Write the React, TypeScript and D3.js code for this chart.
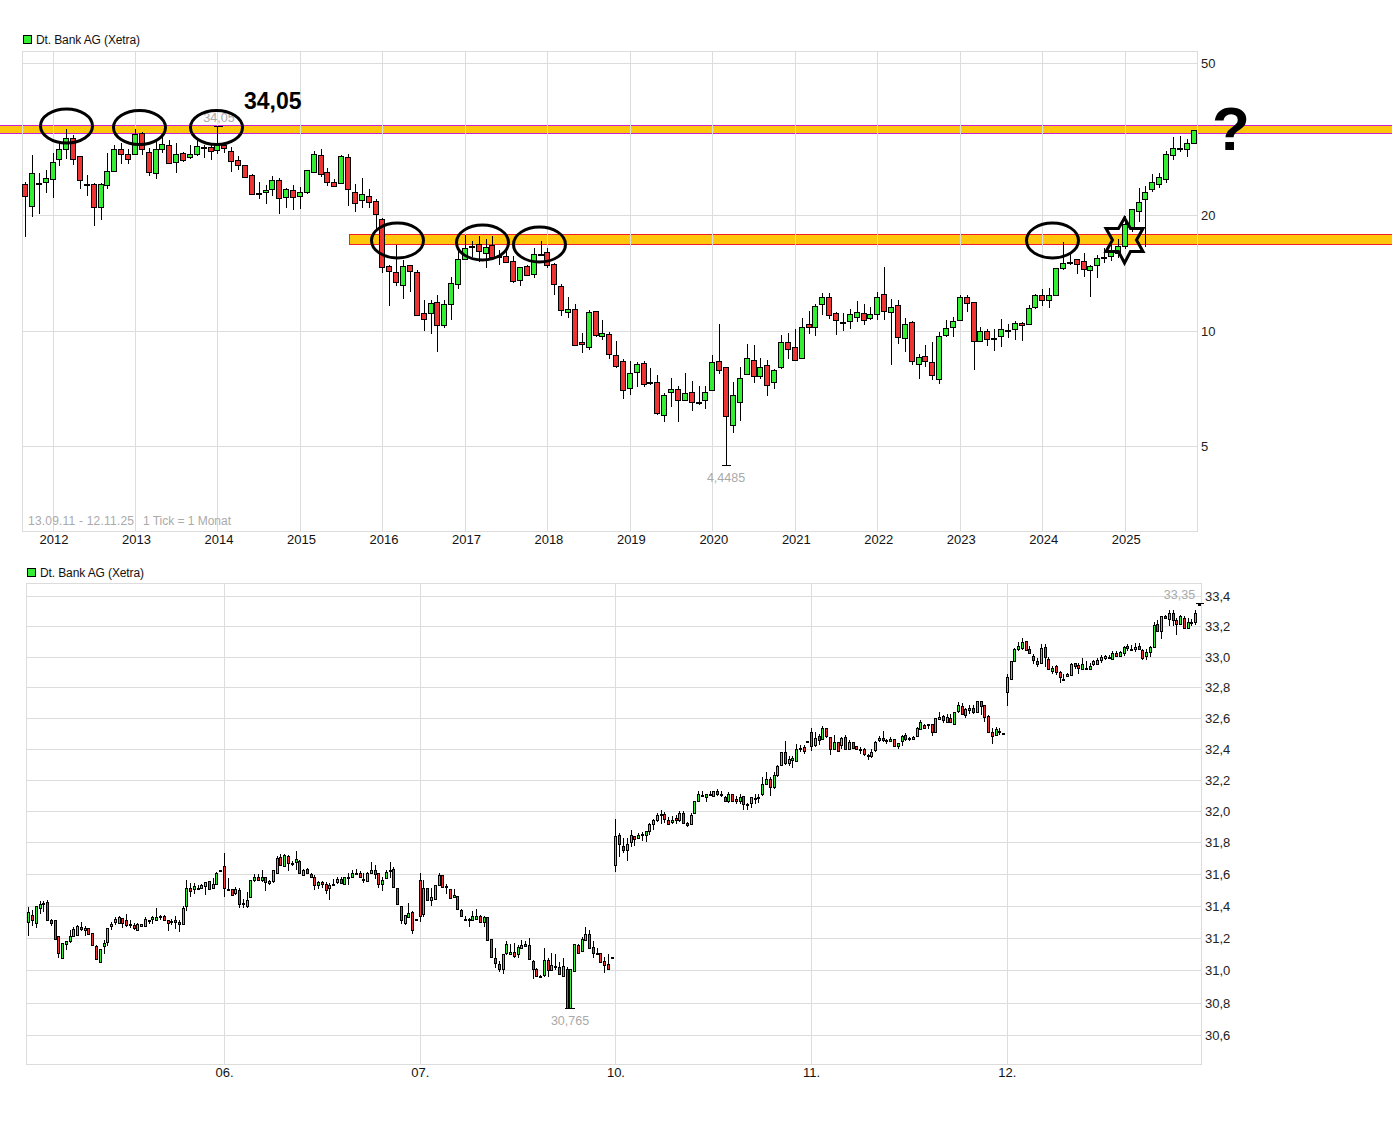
import React from 'react';
import * as d3 from 'd3';

type Candle = [number, number, number, number]; // open, high, low, close

const stockName = 'Dt. Bank AG (Xetra)';

// one candle per month, Sep 2011 - Nov 2025
const monthlyCandles: Candle[] = [
  [24.13,24.42,17.60,22.44],[21.21,28.78,19.86,25.78],[24.36,25.78,20.18,24.36],[24.42,26.28,22.93,25.01],[24.86,29.17,22.25,27.54],
  [28.03,30.87,26.93,29.77],[29.77,33.56,28.08,31.80],[31.80,32.45,27.10,28.03],[28.55,28.60,23.49,24.71],[24.17,25.52,22.48,24.17],
  [24.13,24.31,18.81,21.08],[21.00,24.31,19.46,24.13],[23.98,29.07,23.49,26.08],[26.08,30.50,26.08,29.77],[29.77,30.87,27.26,28.90],
  [28.90,29.77,27.26,28.03],[28.90,33.56,28.90,32.58],[32.78,32.97,28.78,29.77],[29.24,29.95,25.41,25.93],[25.78,31.47,24.95,29.77],
  [29.77,32.45,29.07,30.68],[30.50,31.47,27.21,27.37],[27.54,30.87,25.87,28.90],[29.07,29.35,27.54,27.86],[28.38,30.55,28.03,28.90],
  [28.90,31.47,28.60,30.32],[30.19,30.55,28.26,30.19],[30.13,30.55,27.96,29.42],[29.59,34.05,28.90,30.50],[30.50,30.87,29.07,29.95],
  [29.42,30.13,26.02,27.70],[27.86,28.60,26.28,27.05],[27.05,27.10,25.17,25.26],[25.47,25.62,22.62,22.80],[22.89,24.46,22.08,22.89],
  [22.99,24.03,21.43,23.26],[23.40,25.37,22.48,24.71],[24.71,25.01,20.18,22.17],[22.33,23.55,20.92,23.40],[23.26,24.03,20.66,22.33],
  [22.44,23.78,20.79,22.99],[22.99,26.28,22.76,26.23],[25.93,29.47,25.87,28.90],[28.72,29.77,25.17,25.62],[25.93,26.56,23.92,24.42],
  [24.42,24.90,23.78,23.92],[24.27,28.78,24.17,28.55],[28.38,28.90,21.21,23.40],[22.99,24.13,20.46,21.52],[21.90,25.01,20.88,22.72],
  [22.44,23.40,20.88,21.65],[21.77,22.03,18.32,20.14],[19.54,19.66,14.18,14.65],[14.74,14.86,11.63,14.30],[14.22,16.75,13.10,13.39],
  [13.15,15.30,12.13,14.74],[14.83,14.86,12.65,14.30],[14.22,14.38,10.91,10.98],[11.11,12.03,10.00,10.71],[11.11,12.03,9.82,11.80],
  [11.87,12.40,8.82,10.34],[10.34,12.03,10.18,11.73],[11.73,13.80,10.67,13.31],[13.23,16.15,12.88,15.37],[15.37,17.78,15.27,16.42],
  [16.65,17.15,15.61,16.65],[16.82,17.68,15.10,16.12],[15.93,17.32,14.60,16.52],[16.72,17.68,15.46,15.56],[15.65,16.25,14.83,15.65],
  [15.65,16.25,15.06,15.10],[15.18,15.68,13.31,13.47],[13.55,14.67,13.12,14.65],[14.74,14.86,13.93,13.97],[14.05,16.45,13.76,15.84],
  [15.84,17.12,15.65,15.84],[16.03,16.42,14.60,14.83],[14.92,15.01,12.36,13.23],[13.07,13.23,10.95,11.31],[11.18,12.23,10.82,11.38],
  [11.38,11.73,9.11,9.16],[9.33,9.86,8.74,9.22],[9.05,11.33,8.89,11.18],[11.24,11.26,9.61,9.73],[9.67,10.67,9.43,9.85],
  [9.79,9.94,8.43,8.69],[8.63,9.40,7.98,8.08],[8.33,8.43,6.64,6.99],[7.07,8.33,6.81,7.75],[7.79,8.28,7.12,8.18],
  [8.23,8.33,7.12,7.25],[7.35,7.98,7.23,7.35],[7.34,7.64,6.02,6.09],[6.02,6.86,5.79,6.78],[6.91,7.52,6.34,7.03],
  [7.03,7.16,5.76,6.58],[6.58,7.75,6.54,6.86],[6.91,7.38,6.18,6.50],[6.53,7.16,6.41,6.53],[6.58,7.16,6.26,6.91],
  [6.99,8.63,6.97,8.28],[8.33,10.42,7.70,7.89],[8.03,8.05,4.4485,5.98],[5.67,7.34,5.40,6.78],[6.50,8.06,5.81,7.52],
  [7.70,9.22,7.68,8.48],[8.38,9.16,7.29,7.61],[7.61,8.49,7.47,8.03],[8.13,8.38,6.74,7.21],[7.34,7.93,7.03,7.89],
  [8.03,9.74,7.93,9.33],[9.33,9.85,8.43,8.95],[9.05,10.08,8.37,8.38],[8.48,10.78,8.43,10.21],[10.40,11.24,9.80,10.21],
  [10.21,11.73,9.69,11.59],[11.73,12.53,10.98,12.23],[12.23,12.53,10.71,10.98],[11.11,11.18,9.75,10.65],[10.54,11.11,10.00,10.54],
  [10.59,11.38,10.09,11.05],[10.85,11.96,10.56,11.18],[11.11,11.73,10.37,10.65],[10.78,11.52,10.65,11.05],[11.05,12.61,10.65,12.23],
  [12.45,14.67,10.65,11.24],[11.18,12.08,8.15,11.52],[11.66,12.01,9.23,9.61],[9.55,10.78,8.82,10.40],[10.52,10.59,8.13,8.33],
  [8.18,8.69,7.50,8.53],[8.58,9.16,8.03,8.33],[8.28,9.34,7.44,7.66],[7.47,9.91,7.25,9.67],[9.73,10.65,9.61,10.15],
  [10.21,10.85,9.63,10.59],[10.65,12.38,10.65,12.23],[12.23,12.40,11.18,11.80],[11.87,11.89,7.90,9.38],[9.38,10.21,9.33,9.96],
  [9.96,10.08,9.13,9.49],[9.59,10.08,8.86,9.59],[9.67,10.73,9.05,10.08],[10.06,10.40,9.55,10.06],[10.08,10.59,9.45,10.46],
  [10.46,10.52,9.40,10.33],[10.40,11.66,10.37,11.45],[11.52,12.45,11.42,12.38],[12.38,12.83,11.59,12.01],[12.01,12.91,11.49,12.38],
  [12.38,14.59,12.30,14.56],[14.56,17.05,14.38,15.01],[15.15,15.99,14.88,15.15],[15.37,15.40,14.05,14.92],[15.18,15.98,13.85,14.47],
  [14.38,14.83,12.28,14.74],[14.83,15.75,13.76,15.46],[15.59,16.42,15.06,15.59],[15.65,16.92,15.24,16.12],[15.97,17.36,15.46,16.62],
  [16.65,19.95,16.32,19.00],[18.51,20.79,18.11,20.75],[20.50,23.55,19.27,21.72],[22.03,23.84,16.58,22.99],[23.40,25.62,22.99,24.42],
  [24.13,25.78,23.55,25.17],[24.86,29.42,24.27,28.90],[28.72,32.05,27.86,29.95],[30.06,32.25,29.24,30.06],[29.77,31.60,28.38,30.87],
  [30.87,33.42,30.68,33.36],
];

// intraday candles of the lower chart, 52 per trading day
const intradayCandles: Candle[] = [
  [31.30,31.393,31.211,31.362],[31.345,31.376,31.273,31.314],[31.293,31.399,31.262,31.399],[31.385,31.432,31.347,31.411],[31.413,31.432,31.360,31.420],
  [31.424,31.436,31.312,31.312],[31.312,31.318,31.273,31.293],[31.312,31.312,31.186,31.196],[31.213,31.213,31.074,31.107],[31.078,31.169,31.074,31.169],
  [31.161,31.182,31.124,31.182],[31.182,31.252,31.169,31.213],[31.211,31.269,31.207,31.256],[31.217,31.283,31.211,31.275],[31.269,31.300,31.244,31.256],
  [31.250,31.275,31.211,31.262],[31.262,31.262,31.217,31.223],[31.231,31.231,31.157,31.157],[31.151,31.157,31.064,31.070],[31.053,31.132,31.049,31.132],
  [31.151,31.186,31.101,31.169],[31.175,31.262,31.149,31.262],[31.275,31.300,31.248,31.287],[31.300,31.331,31.281,31.318],[31.293,31.337,31.287,31.331],
  [31.325,31.325,31.262,31.293],[31.312,31.351,31.269,31.281],[31.285,31.312,31.262,31.285],[31.281,31.293,31.250,31.262],[31.250,31.293,31.250,31.287],
  [31.275,31.287,31.269,31.287],[31.275,31.331,31.269,31.318],[31.312,31.312,31.287,31.312],[31.318,31.337,31.287,31.331],[31.312,31.387,31.312,31.331],
  [31.329,31.343,31.312,31.337],[31.337,31.343,31.312,31.312],[31.312,31.312,31.244,31.293],[31.308,31.318,31.281,31.308],[31.312,31.337,31.256,31.298],
  [31.300,31.312,31.238,31.287],[31.287,31.399,31.287,31.387],[31.399,31.561,31.366,31.511],[31.511,31.542,31.455,31.492],[31.505,31.542,31.474,31.523],
  [31.505,31.529,31.498,31.511],[31.511,31.536,31.505,31.529],[31.523,31.548,31.467,31.548],[31.554,31.554,31.505,31.505],[31.511,31.573,31.505,31.536],
  [31.536,31.612,31.529,31.606],[31.629,31.629,31.629,31.629],
  [31.654,31.734,31.455,31.511],[31.505,31.573,31.498,31.505],[31.505,31.505,31.467,31.467],[31.480,31.517,31.467,31.505],[31.498,31.511,31.387,31.411],
  [31.418,31.443,31.387,31.418],[31.399,31.486,31.387,31.436],[31.455,31.561,31.455,31.561],[31.561,31.598,31.548,31.585],[31.585,31.598,31.554,31.561],
  [31.561,31.625,31.548,31.579],[31.581,31.585,31.496,31.548],[31.542,31.561,31.529,31.554],[31.554,31.629,31.542,31.623],[31.610,31.716,31.610,31.703],
  [31.710,31.728,31.656,31.660],[31.654,31.728,31.650,31.722],[31.716,31.722,31.618,31.672],[31.672,31.685,31.650,31.672],[31.678,31.747,31.629,31.697],
  [31.685,31.691,31.604,31.610],[31.596,31.635,31.590,31.629],[31.635,31.641,31.604,31.610],[31.598,31.604,31.573,31.585],[31.579,31.592,31.498,31.529],
  [31.531,31.554,31.505,31.548],[31.548,31.554,31.511,31.536],[31.536,31.548,31.474,31.498],[31.511,31.542,31.438,31.531],[31.536,31.567,31.529,31.536],
  [31.548,31.579,31.536,31.567],[31.567,31.579,31.542,31.544],[31.540,31.585,31.534,31.585],[31.579,31.610,31.534,31.579],[31.579,31.629,31.579,31.610],
  [31.610,31.631,31.592,31.598],[31.604,31.618,31.573,31.579],[31.567,31.604,31.542,31.567],[31.554,31.616,31.548,31.610],[31.604,31.678,31.604,31.623],
  [31.623,31.656,31.567,31.598],[31.610,31.610,31.511,31.536],[31.536,31.579,31.492,31.561],[31.573,31.629,31.567,31.616],[31.625,31.678,31.573,31.625],
  [31.635,31.647,31.517,31.517],[31.511,31.515,31.405,31.411],[31.399,31.399,31.287,31.312],[31.293,31.343,31.281,31.343],[31.331,31.418,31.325,31.356],
  [31.362,31.368,31.225,31.250],[31.318,31.318,31.318,31.318],
  [31.561,31.610,31.300,31.337],[31.349,31.561,31.331,31.511],[31.511,31.511,31.436,31.436],[31.436,31.511,31.399,31.455],[31.443,31.529,31.436,31.529],
  [31.529,31.610,31.529,31.592],[31.592,31.592,31.517,31.517],[31.523,31.536,31.474,31.523],[31.505,31.505,31.443,31.449],[31.455,31.505,31.449,31.467],
  [31.461,31.461,31.380,31.380],[31.374,31.380,31.331,31.337],[31.320,31.337,31.306,31.320],[31.316,31.325,31.269,31.316],[31.312,31.368,31.312,31.337],
  [31.318,31.380,31.312,31.337],[31.337,31.343,31.300,31.300],[31.300,31.337,31.269,31.331],[31.331,31.331,31.188,31.188],[31.194,31.194,31.082,31.082],
  [31.076,31.138,31.014,31.045],[31.039,31.056,30.989,31.008],[31.008,31.101,30.977,31.101],[31.107,31.182,31.095,31.163],[31.101,31.163,31.101,31.113],
  [31.113,31.169,31.076,31.089],[31.101,31.157,31.076,31.144],[31.138,31.188,31.138,31.157],[31.163,31.182,31.144,31.151],[31.157,31.200,31.064,31.070],
  [31.058,31.064,30.946,31.008],[31.008,31.014,30.960,30.964],[30.962,30.971,30.958,30.962],[30.971,31.138,30.958,31.064],[31.064,31.076,30.958,31.002],
  [31.002,31.107,31.002,31.033],[31.027,31.101,31.002,31.027],[31.020,31.051,30.977,30.977],[30.964,31.076,30.964,31.027],[31.008,31.020,30.765,30.766],
  [30.766,31.008,30.765,31.008],[30.995,31.163,30.995,31.163],[31.157,31.163,31.101,31.107],[31.120,31.207,31.120,31.194],[31.188,31.269,31.182,31.225],
  [31.225,31.250,31.138,31.138],[31.144,31.182,31.076,31.107],[31.107,31.138,31.101,31.107],[31.107,31.107,31.045,31.051],[31.058,31.082,30.983,31.033],
  [31.039,31.101,31.008,31.008],[31.082,31.082,31.082,31.082],
  [31.656,31.952,31.611,31.843],[31.849,31.862,31.708,31.791],[31.778,31.830,31.733,31.753],[31.753,31.830,31.682,31.791],[31.804,31.881,31.772,31.849],
  [31.843,31.843,31.776,31.823],[31.830,31.862,31.823,31.849],[31.851,31.868,31.808,31.851],[31.849,31.875,31.804,31.875],[31.875,31.926,31.845,31.920],
  [31.920,31.952,31.881,31.945],[31.945,31.990,31.932,31.977],[31.982,32.009,31.920,31.982],[31.984,31.997,31.926,31.952],[31.945,31.965,31.913,31.920],
  [31.932,31.971,31.920,31.945],[31.958,31.977,31.920,31.945],[31.945,32.003,31.932,31.990],[31.990,32.003,31.926,31.926],[31.926,31.932,31.900,31.913],
  [31.920,31.990,31.920,31.977],[31.990,32.061,31.984,32.061],[32.067,32.127,32.061,32.106],[32.101,32.131,32.087,32.101],[32.087,32.112,32.059,32.106],
  [32.108,32.131,32.095,32.108],[32.099,32.131,32.095,32.131],[32.131,32.144,32.099,32.106],[32.112,32.131,32.087,32.112],[32.087,32.099,32.059,32.067],
  [32.061,32.119,32.054,32.112],[32.106,32.106,32.061,32.067],[32.080,32.093,32.042,32.061],[32.061,32.112,32.042,32.087],[32.093,32.099,32.009,32.042],
  [32.044,32.054,32.009,32.044],[32.054,32.087,32.022,32.087],[32.082,32.106,32.048,32.082],[32.087,32.112,32.054,32.087],[32.106,32.215,32.099,32.170],
  [32.176,32.247,32.170,32.202],[32.202,32.215,32.099,32.157],[32.151,32.247,32.144,32.228],[32.228,32.292,32.221,32.286],[32.292,32.382,32.292,32.382],
  [32.382,32.448,32.292,32.311],[32.305,32.356,32.288,32.337],[32.328,32.356,32.273,32.343],[32.324,32.433,32.318,32.401],[32.403,32.427,32.382,32.403],
  [32.414,32.427,32.369,32.388],[32.450,32.450,32.450,32.450],
  [32.510,32.536,32.388,32.420],[32.427,32.510,32.414,32.472],[32.485,32.497,32.427,32.459],[32.465,32.549,32.465,32.536],[32.536,32.536,32.472,32.485],
  [32.478,32.478,32.360,32.401],[32.401,32.491,32.395,32.446],[32.446,32.446,32.382,32.388],[32.427,32.478,32.401,32.472],[32.478,32.491,32.401,32.401],
  [32.401,32.459,32.401,32.446],[32.446,32.446,32.401,32.408],[32.420,32.420,32.401,32.401],[32.401,32.414,32.369,32.401],[32.401,32.408,32.356,32.363],
  [32.358,32.369,32.328,32.358],[32.356,32.401,32.343,32.382],[32.395,32.452,32.382,32.446],[32.459,32.485,32.446,32.472],[32.472,32.517,32.446,32.459],
  [32.459,32.465,32.433,32.452],[32.452,32.478,32.446,32.465],[32.465,32.465,32.414,32.420],[32.420,32.440,32.397,32.440],[32.452,32.491,32.420,32.485],
  [32.491,32.504,32.452,32.465],[32.467,32.478,32.452,32.467],[32.465,32.485,32.459,32.478],[32.485,32.542,32.478,32.536],[32.529,32.587,32.523,32.574],
  [32.555,32.562,32.529,32.536],[32.559,32.562,32.529,32.559],[32.562,32.562,32.485,32.510],[32.510,32.600,32.510,32.600],[32.594,32.639,32.587,32.607],
  [32.613,32.619,32.568,32.587],[32.574,32.626,32.568,32.607],[32.600,32.626,32.568,32.574],[32.562,32.639,32.562,32.639],[32.645,32.703,32.632,32.684],
  [32.677,32.696,32.619,32.626],[32.619,32.664,32.596,32.658],[32.651,32.684,32.626,32.664],[32.664,32.684,32.626,32.639],[32.639,32.709,32.632,32.709],
  [32.709,32.709,32.619,32.677],[32.684,32.684,32.574,32.607],[32.613,32.619,32.504,32.510],[32.510,32.536,32.433,32.485],[32.491,32.542,32.485,32.529],
  [32.515,32.536,32.491,32.515],[32.504,32.504,32.504,32.504],
  [32.767,32.885,32.677,32.866],[32.852,32.971,32.846,32.971],[32.971,33.056,32.971,33.049],[33.049,33.095,33.036,33.069],[33.056,33.122,33.043,33.095],
  [33.102,33.102,33.043,33.043],[33.049,33.069,33.017,33.023],[33.004,33.017,32.951,32.977],[32.971,32.990,32.931,32.951],[32.958,33.082,32.951,33.056],
  [33.063,33.082,32.931,32.997],[32.984,32.997,32.912,32.918],[32.903,32.938,32.885,32.925],[32.938,32.944,32.881,32.898],[32.898,32.909,32.826,32.866],
  [32.857,32.885,32.839,32.857],[32.872,32.892,32.866,32.885],[32.879,32.958,32.872,32.951],[32.958,32.958,32.918,32.938],[32.944,32.958,32.885,32.925],
  [32.918,32.990,32.912,32.951],[32.927,32.971,32.918,32.927],[32.918,32.958,32.912,32.938],[32.951,32.977,32.938,32.971],[32.951,32.990,32.944,32.977],
  [32.977,33.010,32.958,32.997],[32.990,33.010,32.977,33.004],[32.997,33.010,32.984,32.997],[32.984,33.036,32.977,33.023],[33.023,33.036,32.997,33.004],
  [33.004,33.036,33.004,33.030],[33.023,33.069,33.004,33.063],[33.069,33.082,33.036,33.056],[33.052,33.076,33.043,33.052],[33.049,33.089,33.030,33.063],
  [33.069,33.089,33.043,33.049],[33.043,33.049,32.977,32.990],[33.004,33.049,32.977,33.030],[33.030,33.069,32.997,33.063],[33.063,33.227,33.063,33.207],
  [33.214,33.240,33.161,33.168],[33.168,33.266,33.115,33.266],[33.266,33.279,33.247,33.253],[33.247,33.306,33.201,33.286],[33.286,33.306,33.201,33.240],
  [33.240,33.253,33.141,33.214],[33.214,33.279,33.207,33.266],[33.253,33.266,33.181,33.187],[33.187,33.253,33.181,33.227],[33.225,33.247,33.201,33.231],
  [33.227,33.312,33.207,33.286],[33.35,33.35,33.35,33.35],
];

const monthlyPriceTicks = [50, 20, 10, 5];
const yearLabels = ['2012','2013','2014','2015','2016','2017','2018','2019','2020','2021','2022','2023','2024','2025'];
const yearStartIndex = yearLabels.map((_, k) => 4 + k * 12);

const intradayPriceTicks = [33.4,33.2,33.0,32.8,32.6,32.4,32.2,32.0,31.8,31.6,31.4,31.2,31.0,30.8,30.6];
const dayLabels = ['06.', '07.', '10.', '11.', '12.'];
const dayStartIndex = dayLabels.map((_, k) => 52 + k * 52);

const resistancePrices = [33.4, 17.23];
const highLabel = '34,05';
const rangeLabels = ['13.09.11 - 12.11.25', '1 Tick = 1 Monat'];

const GREEN = '#33ee33';
const RED = '#ee3333';
const GRID = '#dcdcdc';
const NOTE = '#aaa';
const FONT = '"Liberation Sans", Arial, sans-serif';

const topX = d3.scaleLinear().domain([4, 170]).range([52.5, 1193.5]);
const topY = d3.scaleLog().domain([5, 50]).range([446, 63]);
const botX = d3.scaleLinear().domain([52, 260]).range([224, 1006.9]);
const botY = d3.scaleLog().domain([30.6, 33.4]).range([1035.4, 596.3]);

const comma = (v: number) => v.toFixed(1).replace('.', ',');

function Candles({ data, x, y, left, width }: { data: Candle[]; x: any; y: any; left: number; width: number }) {
  return (
    <g shapeRendering="crispEdges">
      {data.map(([o, h, l, c], i) => {
        const cx = Math.round(x(i)) + 0.5;
        const top = Math.round(y(Math.max(o, c))) + 0.5;
        const bottom = Math.round(y(Math.min(o, c))) + 0.5;
        return (
          <g key={i}>
            <line x1={cx} x2={cx} y1={y(h)} y2={y(l)} stroke="#000" />
            <rect
              x={cx - left}
              y={top}
              width={width}
              height={Math.max(bottom - top, 1)}
              fill={c > o ? GREEN : RED}
              stroke="#000"
            />
          </g>
        );
      })}
    </g>
  );
}

function Frame({ left, right, top, bottom, xs, ys }: { left: number; right: number; top: number; bottom: number; xs: number[]; ys: number[] }) {
  return (
    <g stroke={GRID} shapeRendering="crispEdges" fill="none">
      <rect x={left + 0.5} y={top + 0.5} width={right - left} height={bottom - top} />
      {xs.map((v, i) => <line key={i} x1={Math.round(v) + 0.5} x2={Math.round(v) + 0.5} y1={top} y2={bottom} />)}
      {ys.map((v, i) => <line key={i} x1={left} x2={right} y1={Math.round(v) + 0.5} y2={Math.round(v) + 0.5} />)}
    </g>
  );
}

function Legend({ x, y }: { x: number; y: number }) {
  return (
    <g>
      <rect x={x + 0.5} y={y + 0.5} width={8} height={8} fill={GREEN} stroke="#000" shapeRendering="crispEdges" />
      <text x={x + 13} y={y + 9} fontSize={12} fill="#111" textLength={104}>{stockName}</text>
    </g>
  );
}

// hand drawn marks on the upper chart
const ovals = [
  [66.5, 126, 26, 17], [139.5, 127.5, 26, 17], [216.5, 127.5, 26, 17], [397.5, 240.5, 26, 17.5],
  [482.5, 242.5, 26, 17.5], [539.5, 244.5, 26, 17.5], [1052.5, 240.5, 26, 17.5],
];
const starPath = 'M1124.5 218L1130.5 228.5L1143 228.5L1136.5 240L1143 251.5L1130.5 251.5L1124.5 263L1118.5 251.5L1106 251.5L1112.5 240L1106 228.5L1118.5 228.5Z';

export default function App() {
  const topBandY = topY(resistancePrices[0]);
  const midBandY = topY(resistancePrices[1]);
  return (
    <svg width={1392} height={1132} style={{ position: 'absolute', left: 0, top: 0, display: 'block' }} fontFamily={FONT}>
      <rect width={1392} height={1132} fill="#fff" />

      {/* upper chart: monthly, log scale */}
      <Legend x={23} y={35} />
      <rect x={-1} y={Math.round(topBandY) - 4.5} width={1394} height={8} fill="#ffc60b" stroke="#c81fd0" shapeRendering="crispEdges" />
      <rect x={349.5} y={Math.round(midBandY) - 5.5} width={1043} height={10} fill="#ffc60b" stroke="#f0202a" shapeRendering="crispEdges" />
      <Frame left={22} right={1197} top={51} bottom={531} xs={yearStartIndex.map(i => topX(i))} ys={monthlyPriceTicks.map(v => topY(v))} />
      <Candles data={monthlyCandles} x={topX} y={topY} left={3} width={5} />
      <line x1={214} x2={223} y1={topY(34.05)} y2={topY(34.05)} stroke="#000" shapeRendering="crispEdges" />
      <line x1={722} x2={731} y1={topY(4.4485)} y2={topY(4.4485)} stroke="#000" shapeRendering="crispEdges" />
      {monthlyPriceTicks.map(v => (
        <text key={v} x={1201} y={topY(v) + 5} fontSize={13} fill="#222">{v}</text>
      ))}
      {yearLabels.map((t, k) => (
        <text key={t} x={topX(yearStartIndex[k]) + 1.5} y={544} fontSize={13} textAnchor="middle" fill="#111">{t}</text>
      ))}
      <text x={28} y={525} fontSize={12} fill={NOTE} textLength={106}>{rangeLabels[0]}</text>
      <text x={143} y={525} fontSize={12} fill={NOTE} textLength={88}>{rangeLabels[1]}</text>
      <text x={219} y={122} fontSize={12.5} textAnchor="middle" fill={NOTE}>{highLabel}</text>
      <text x={726} y={482} fontSize={12.5} textAnchor="middle" fill={NOTE}>4,4485</text>
      {ovals.map(([cx, cy, rx, ry], i) => (
        <ellipse key={i} cx={cx} cy={cy} rx={rx} ry={ry} fill="none" stroke="#000" strokeWidth={3} />
      ))}
      <path d={starPath} fill="none" stroke="#000" strokeWidth={3} />
      <text x={244} y={109} fontSize={23} fontWeight="bold" fill="#000">{highLabel}</text>
      <text x={1231} y={150} fontSize={62} fontWeight="bold" textAnchor="middle" fill="#000">?</text>

      {/* lower chart: intraday */}
      <Legend x={27} y={568} />
      <Frame left={26} right={1201} top={583} bottom={1064} xs={dayStartIndex.map(i => botX(i))} ys={intradayPriceTicks.map(v => botY(v))} />
      <Candles data={intradayCandles} x={botX} y={botY} left={1} width={2} />
      <line x1={565} x2={575} y1={botY(30.765)} y2={botY(30.765)} stroke="#000" shapeRendering="crispEdges" />
      <line x1={1196} x2={1204} y1={botY(33.35)} y2={botY(33.35)} stroke="#000" shapeRendering="crispEdges" />
      {intradayPriceTicks.map(v => (
        <text key={v} x={1205} y={botY(v) + 5} fontSize={13} fill="#222">{comma(v)}</text>
      ))}
      {dayLabels.map((t, k) => (
        <text key={t} x={botX(dayStartIndex[k]) + 0.5} y={1077} fontSize={13} textAnchor="middle" fill="#111">{t}</text>
      ))}
      <text x={1179.5} y={599} fontSize={12.5} textAnchor="middle" fill={NOTE}>33,35</text>
      <text x={570} y={1025} fontSize={12.5} textAnchor="middle" fill={NOTE}>30,765</text>
    </svg>
  );
}
